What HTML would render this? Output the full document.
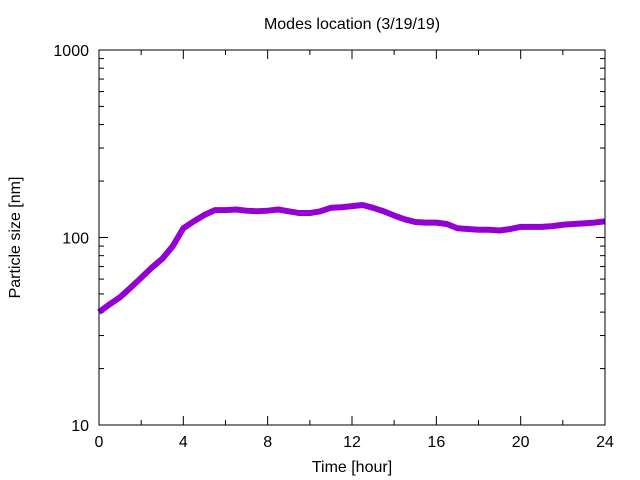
<!DOCTYPE html>
<html><head><meta charset="utf-8"><style>
html,body{margin:0;padding:0;background:#fff;}
svg{display:block;font-family:"Liberation Sans",sans-serif;}
</style></head><body>
<svg id="chart" width="640" height="480" xmlns="http://www.w3.org/2000/svg">
<text x="352" y="29" font-size="16" text-anchor="middle">Modes location (3/19/19)</text>
<text x="352" y="472" font-size="16" text-anchor="middle">Time [hour]</text>
<text transform="translate(20,237.5) rotate(-90)" font-size="16" text-anchor="middle">Particle size [nm]</text>
<g id="ticks"></g>
<g id="series"></g>
<rect x="99" y="50" width="506" height="375" fill="none" stroke="#000" stroke-width="1"/>
</svg>
<script>
const hours = [0,0.5,1,1.5,2,2.5,3,3.5,4,4.5,5,5.5,6,6.5,7,7.5,8,8.5,9,9.5,10,10.5,11,11.5,12,12.5,13,13.5,14,14.5,15,15.5,16,16.5,17,17.5,18,18.5,19,19.5,20,20.5,21,21.5,22,22.5,23,23.5,24];
const sizes = [40,44,48,54,61,69,77,90,112,122,132,140,140,141,139,138,139,141,138,135,135,138,144,145,147,149,144,138,131,125,121,120,120,118,112,111,110,110,109,111,114,114,114,115,117,118,119,120,122];
const xTicks = [0,4,8,12,16,20,24];
const yTicks = [10,100,1000];
const X0=99,X1=605,Y0=425,Y1=50;
const NS="http://www.w3.org/2000/svg";
function xs(h){return X0+(h-0)/(24-0)*(X1-X0);}
function ys(v){return Y0-(Math.log10(v)-1)/(3-1)*(Y0-Y1);}
const tg=document.getElementById('ticks');
function line(x1,y1,x2,y2){const l=document.createElementNS(NS,'line');
l.setAttribute('x1',x1);l.setAttribute('y1',y1);l.setAttribute('x2',x2);l.setAttribute('y2',y2);
l.setAttribute('stroke','#000');l.setAttribute('stroke-width','1');


tg.appendChild(l);}
function text(x,y,s,anchor,name){const t=document.createElementNS(NS,'text');
t.setAttribute('x',x);t.setAttribute('y',y);t.setAttribute('font-size','16');t.setAttribute('text-anchor',anchor);t.textContent=s;


tg.appendChild(t);}
for(let h=0;h<=24;h+=2){const x=xs(h);const len=(h%4===0)?9:5;line(x,Y0,x,Y0-len);line(x,Y1,x,Y1+len);}
xTicks.forEach(h=>text(xs(h),447,String(h),'middle','x-tick-label'));
for(let d=10;d<1000;d*=10){for(let k=1;k<10;k++){const y=ys(d*k);const len=k===1?9:5;line(X0,y,X0+len,y);line(X1,y,X1-len,y);}}
line(X0,ys(1000),X0+9,ys(1000));line(X1,ys(1000),X1-9,ys(1000));
yTicks.forEach(v=>text(89,ys(v)+6,String(v),'end','y-tick-label'));
const sg=document.getElementById('series');
const pts=hours.map((h,i)=>xs(h)+','+ys(sizes[i])).join(' ');
const pl=document.createElementNS(NS,'polyline');
pl.setAttribute('points',pts);pl.setAttribute('fill','none');pl.setAttribute('stroke','#9400d3');pl.setAttribute('stroke-width','6');pl.setAttribute('stroke-linejoin','round');


sg.appendChild(pl);
</script>
</body></html>
